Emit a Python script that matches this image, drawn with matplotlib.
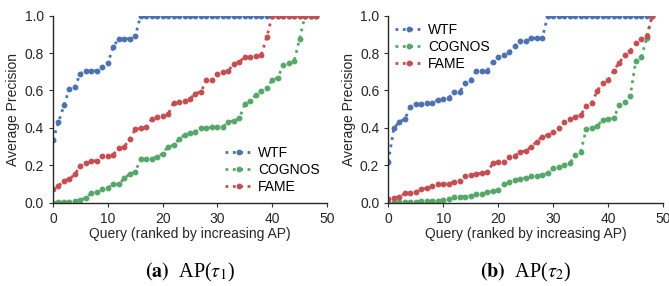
import matplotlib
matplotlib.use("Agg")
import matplotlib.pyplot as plt
import numpy as np

queries = np.arange(49)

# AP(tau_1)
wtf_t1 = [0.335, 0.43, 0.52, 0.61, 0.62, 0.69, 0.705, 0.705, 0.705, 0.727,
          0.745, 0.834, 0.877, 0.877, 0.877, 0.89] + [1.0] * 33
cognos_t1 = [0.0, 0.002, 0.004, 0.005, 0.011, 0.012, 0.027, 0.05, 0.055, 0.071,
             0.08, 0.098, 0.098, 0.13, 0.153, 0.164, 0.234, 0.235, 0.235, 0.246,
             0.262, 0.30, 0.307, 0.339, 0.362, 0.374, 0.38, 0.397, 0.401, 0.403,
             0.405, 0.406, 0.43, 0.439, 0.451, 0.528, 0.544, 0.576, 0.597, 0.611,
             0.656, 0.668, 0.734, 0.745, 0.756, 0.877, 1.0, 1.0, 1.0]
fame_t1 = [0.071, 0.09, 0.118, 0.125, 0.153, 0.196, 0.21, 0.221, 0.225, 0.25,
           0.25, 0.257, 0.29, 0.30, 0.339, 0.392, 0.397, 0.406, 0.446, 0.46,
           0.463, 0.472, 0.535, 0.537, 0.545, 0.556, 0.583, 0.594, 0.654, 0.656,
           0.69, 0.697, 0.706, 0.742, 0.754, 0.777, 0.777, 0.784, 0.79, 0.884,
           1.0, 1.0, 1.0, 1.0, 1.0, 1.0, 1.0, 1.0, 1.0]

# AP(tau_2)
wtf_t2 = [0.219, 0.397, 0.433, 0.446, 0.513, 0.526, 0.526, 0.531, 0.531, 0.549,
          0.553, 0.56, 0.594, 0.594, 0.638, 0.656, 0.704, 0.706, 0.706, 0.754,
          0.777, 0.792, 0.806, 0.838, 0.866, 0.863, 0.879, 0.879, 0.879] + [1.0] * 20
cognos_t2 = [0.0, 0.002, 0.003, 0.004, 0.005, 0.006, 0.007, 0.009, 0.009, 0.011,
             0.014, 0.018, 0.029, 0.032, 0.032, 0.037, 0.045, 0.046, 0.055, 0.061,
             0.068, 0.10, 0.112, 0.121, 0.125, 0.134, 0.143, 0.144, 0.148, 0.157,
             0.184, 0.193, 0.201, 0.21, 0.255, 0.273, 0.392, 0.397, 0.41, 0.442,
             0.446, 0.451, 0.522, 0.538, 0.57, 0.758, 0.777, 0.879, 1.0]
fame_t2 = [0.018, 0.027, 0.029, 0.05, 0.053, 0.057, 0.073, 0.077, 0.089, 0.10,
           0.10, 0.10, 0.112, 0.118, 0.144, 0.148, 0.153, 0.157, 0.164, 0.21,
           0.216, 0.219, 0.246, 0.251, 0.273, 0.276, 0.30, 0.326, 0.353, 0.362,
           0.38, 0.397, 0.433, 0.447, 0.46, 0.469, 0.517, 0.531, 0.599, 0.638,
           0.656, 0.706, 0.749, 0.788, 0.813, 0.852, 0.873, 0.891, 1.0]

methods = ["WTF", "COGNOS", "FAME"]
colors = ["#4C72B0", "#55A868", "#C44E52"]
captions = [r"$\mathbf{(a)}$  AP($\tau_1$)", r"$\mathbf{(b)}$  AP($\tau_2$)"]

plt.rcParams["font.family"] = ["Liberation Sans", "DejaVu Sans"]
plt.rcParams["mathtext.fontset"] = "stix"

fig = plt.figure(figsize=(6.69, 2.86), dpi=100)
ax1 = fig.add_axes([0.0792, 0.2913, 0.4096, 0.654])
ax2 = fig.add_axes([0.5804, 0.2913, 0.411, 0.654])

panels = [
    (ax1, [wtf_t1, cognos_t1, fame_t1], "lower right", (1.02, -0.02)),
    (ax2, [wtf_t2, cognos_t2, fame_t2], "upper left", (-0.022, 1.03)),
]

for i, (ax, series, loc, anchor) in enumerate(panels):
    for name, vals, c in zip(methods, series, colors):
        ax.plot(queries, vals, linestyle=":", linewidth=2, marker="o",
                markersize=3.2, color=c, label=name)
    ax.set_xlim(0, 50)
    ax.set_ylim(0, 1.0)
    ax.set_xticks([0, 10, 20, 30, 40, 50])
    ax.set_yticks([0.0, 0.2, 0.4, 0.6, 0.8, 1.0])
    ax.tick_params(labelsize=10, length=3, color="#333333", labelcolor="#262626")
    for side in ["top", "right"]:
        ax.spines[side].set_visible(False)
    for side in ["left", "bottom"]:
        ax.spines[side].set_color("#262626")
        ax.spines[side].set_linewidth(1.0)
    ax.set_xlabel("Query (ranked by increasing AP)", fontsize=10,
                  color="#262626", labelpad=1)
    ax.set_ylabel("Average Precision", fontsize=10, color="#262626", labelpad=3)
    ax.legend(loc=loc, bbox_to_anchor=anchor, frameon=False, fontsize=10,
              handlelength=2.0, handletextpad=0.4, labelspacing=0.22)
    ax.text(0.5, -0.375, captions[i], transform=ax.transAxes, ha="center",
            va="center", fontsize=14.5, family="Liberation Serif")

fig.savefig("out.png", dpi=100)
